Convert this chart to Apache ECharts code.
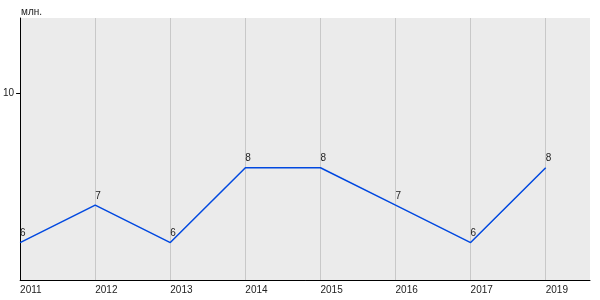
<!DOCTYPE html>
<html><head><meta charset="utf-8">
<script src="https://cdn.jsdelivr.net/npm/echarts@6/dist/echarts.min.js"></script>
<style>html,body{margin:0;padding:0;background:#fff}#c{width:600px;height:300px}</style>
</head><body><div id="c"></div>
<script>
const years = ['2011','2012','2013','2014','2015','2016','2017','2019'];
const values = [6, 7, 6, 8, 8, 7, 6, 8];
const yTicks = [10];
const unitName = 'млн.';

const chart = echarts.init(document.getElementById('c'), null, {renderer:'canvas'});
const font = 'Liberation Sans, Arial, sans-serif';
chart.setOption({
  animation: false,
  grid: {left: 20, right: 10, top: 18, bottom: 20, show: true, backgroundColor: '#ebebeb', borderWidth: 0},
  xAxis: {
    type: 'value', min: 0, max: 7.59, interval: 1,
    axisLine: {show: true, lineStyle: {color: '#000', width: 1}},
    axisTick: {show: false},
    axisLabel: {
      fontSize: 10, fontFamily: font, color: '#222', align: 'left', margin: 5,
      showMaxLabel: false,
      formatter: v => (Number.isInteger(v) && years[v] !== undefined) ? years[v] : ''
    },
    splitLine: {show: true, showMinLine: false, showMaxLine: false, lineStyle: {color: '#c8c8c8', width: 1}}
  },
  yAxis: {
    type: 'value', min: 5, max: 12, interval: 5,
    name: unitName, nameLocation: 'end', nameGap: 1,
    nameTextStyle: {fontSize: 10, fontFamily: font, color: '#222', align: 'left', verticalAlign: 'bottom', padding: [0,0,0,1]},
    axisLine: {show: true, lineStyle: {color: '#000', width: 1}},
    axisTick: {show: true, length: 4, customValues: yTicks, lineStyle: {color: '#000'}},
    axisLabel: {fontSize: 10, fontFamily: font, color: '#222', margin: 6, customValues: yTicks},
    splitLine: {show: true, showMinLine: false, showMaxLine: false, lineStyle: {color: '#c8c8c8', width: 1}}
  },
  series: [{
    type: 'line',
    data: values.map((v, i) => [i, v]),
    showSymbol: true, symbol: 'circle', symbolSize: 0,
    itemStyle: {color: '#0048e0'},
    lineStyle: {color: '#0048e0', width: 1.5},
    label: {show: true, position: 'top', align: 'left', distance: 4, fontSize: 10, fontFamily: font, color: '#222',
      formatter: p => String(p.value[1])}
  }]
});
</script>
</body></html>
